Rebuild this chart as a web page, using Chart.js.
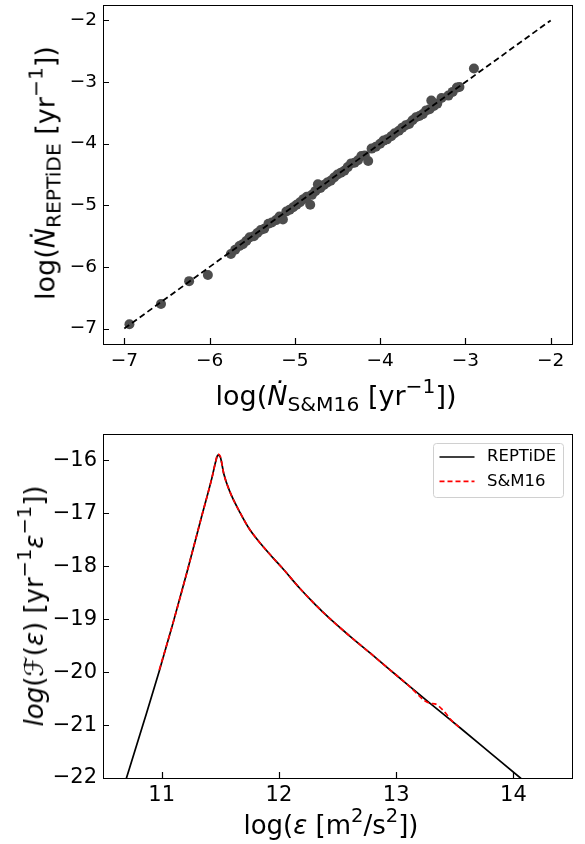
<!DOCTYPE html>
<html>
<head>
<meta charset="utf-8">
<script src="https://cdn.jsdelivr.net/npm/chart.js@4/dist/chart.umd.min.js"></script>
<style>
html, body { margin: 0; padding: 0; background: #fff; }
#page { position: relative; width: 585px; height: 844px; overflow: hidden; font-family: "DejaVu Sans", sans-serif; color: #000; }
.panel { position: absolute; left: 0; width: 585px; }
.title { position: absolute; white-space: nowrap; line-height: 1; }
.sub, .sup { font-size: 0.75em; position: relative; }
.sub { top: 0.3em; }
.sup { top: -0.6em; }
</style>
</head>
<body>
<div id="page">
  <div class="panel" style="top:0;height:415px"><canvas id="rateChart"></canvas></div>
  <div class="panel" style="top:415px;height:429px"><canvas id="distChart"></canvas></div>

  <div class="title" style="font-size:27px;left:44.7px;top:173px;transform:translate(-50%,-50%) rotate(-90deg)">log(<i>Ṅ</i><span class="sub">REPTiDE</span> [yr<span class="sup">−1</span>])</div>
  <div class="title" style="font-size:27px;left:336px;top:382px;transform:translateX(-50%)">log(<i>Ṅ</i><span class="sub">S&amp;M16</span> [yr<span class="sup">−1</span>])</div>

  <div class="title" style="font-size:26px;left:33.7px;top:606px;transform:translate(-50%,-50%) rotate(-90deg)"><i>log</i>(<i>ℱ</i>(<i>ε</i>) [yr<span class="sup">−1</span><i>ε</i><span class="sup">−1</span>])</div>
  <div class="title" style="font-size:26px;left:331px;top:812px;transform:translateX(-50%)">log(<i>ε</i> [m<span class="sup">2</span>/s<span class="sup">2</span>])</div>
</div>

<script>
// --- TICKS ---
const rateTicks = [-7, -6, -5, -4, -3, -2];
const epsTicks = [11, 12, 13, 14];
const fluxTicks = [-22, -21, -20, -19, -18, -17, -16];

// --- TOP PANEL: rates, S&M16 (x) vs REPTiDE (y) ---
const rateSM = [
  -6.94, -6.57, -6.24, -6.02,
  -5.75, -5.70, -5.65, -5.61, -5.57, -5.53, -5.48, -5.44, -5.40, -5.36,
  -5.31, -5.27, -5.22, -5.18, -5.14, -5.10, -5.06, -5.02, -4.98, -4.94,
  -4.90, -4.86, -4.82, -4.80, -4.76, -4.73, -4.70, -4.66, -4.62, -4.58,
  -4.54, -4.50, -4.46, -4.42, -4.38, -4.34, -4.30, -4.26, -4.22, -4.18,
  -4.14, -4.10, -4.05, -4.00, -3.96, -3.92, -3.87, -3.83, -3.78, -3.74,
  -3.70, -3.66, -3.62, -3.58, -3.54, -3.50, -3.46, -3.42, -3.40, -3.37,
  -3.33, -3.28, -3.20, -3.15, -3.10, -3.07,
  -2.90
];
const rateREP = [
  -6.93, -6.60, -6.23, -6.13,
  -5.79, -5.72, -5.66, -5.63, -5.58, -5.52, -5.50, -5.45, -5.40, -5.38,
  -5.30, -5.28, -5.24, -5.18, -5.23, -5.10, -5.07, -5.03, -4.99, -4.95,
  -4.90, -4.86, -4.99, -4.83, -4.77, -4.66, -4.72, -4.67, -4.63, -4.60,
  -4.55, -4.50, -4.47, -4.44, -4.38, -4.32, -4.31, -4.27, -4.20, -4.19,
  -4.28, -4.08, -4.05, -4.00, -3.95, -3.93, -3.88, -3.83, -3.79, -3.74,
  -3.70, -3.68, -3.62, -3.57, -3.55, -3.52, -3.46, -3.44, -3.30, -3.39,
  -3.35, -3.26, -3.22, -3.16, -3.09, -3.08,
  -2.78
];
const oneToOneX = [-7, -2];
const oneToOneY = [-7, -2];

// --- BOTTOM PANEL: energy distribution ---
const logEps = [
  10.60, 10.70, 10.84, 10.98, 11.10, 11.22, 11.34, 11.43, 11.46, 11.48,
  11.50, 11.53, 11.58, 11.67, 11.75, 11.84, 11.95, 12.04, 12.18, 12.30,
  12.44, 12.60, 12.80, 12.95, 13.10, 13.29, 13.55, 13.80, 14.06, 14.15
];
const logFrep = [
  -22.71, -22.00, -21.00, -19.98, -19.05, -18.08, -17.07, -16.32, -16.03, -15.90,
  -15.93, -16.25, -16.58, -16.99, -17.30, -17.56, -17.84, -18.06, -18.42, -18.70,
  -19.00, -19.31, -19.68, -19.96, -20.24, -20.59, -21.06, -21.52, -22.00, -22.17
];
const logEpsSM = [
  10.98, 11.10, 11.22, 11.34, 11.43, 11.46, 11.48, 11.50, 11.53, 11.58,
  11.67, 11.75, 11.84, 11.95, 12.04, 12.18, 12.30, 12.44, 12.60, 12.80,
  12.95, 13.10, 13.29, 13.33, 13.40, 13.48, 13.55
];
const logFsm = [
  -19.96, -19.05, -18.08, -17.07, -16.32, -16.03, -15.88, -15.92, -16.25, -16.58,
  -16.99, -17.30, -17.56, -17.84, -18.06, -18.42, -18.70, -19.00, -19.31, -19.68,
  -19.96, -20.24, -20.59, -20.60, -20.72, -20.93, -21.06
];

function pts(xs, ys) {
  return xs.map((x, i) => ({ x: x, y: ys[i] }));
}

function minus(v) {
  return String(v).replace('-', '\u2212');
}

// --- AXIS ---
function axis(min, max, ticks, size, pad, fitKey, fitVal) {
  return {
    type: 'linear',
    min: min,
    max: max,
    grid: { display: false, drawTicks: false },
    border: { display: false },
    ticks: {
      color: '#000',
      font: { family: 'DejaVu Sans', size: size },
      padding: pad,
      autoSkip: false,
      maxRotation: 0,
      callback: v => minus(v)
    },
    afterBuildTicks: s => { s.ticks = ticks.map(v => ({ value: v })); },
    afterFit: s => {
      s[fitKey] = fitVal;
      s.paddingTop = 0; s.paddingBottom = 0;
      s.paddingLeft = 0; s.paddingRight = 0;
    }
  };
}

// --- FRAME + INWARD TICKS (matplotlib look) ---
const frame = {
  id: 'frame',
  afterDraw(chart) {
    const { ctx, chartArea: a, scales } = chart;
    ctx.save();
    ctx.strokeStyle = '#000';
    ctx.lineWidth = 1;
    ctx.strokeRect(Math.round(a.left) + 0.5, Math.round(a.top) + 0.5,
      Math.round(a.right - a.left), Math.round(a.bottom - a.top));
    ctx.lineWidth = 1.2;
    ctx.beginPath();
    scales.x.ticks.forEach(t => {
      const px = Math.round(scales.x.getPixelForValue(t.value)) + 0.5;
      ctx.moveTo(px, a.bottom);
      ctx.lineTo(px, a.bottom - 6);
    });
    scales.y.ticks.forEach(t => {
      const py = Math.round(scales.y.getPixelForValue(t.value)) + 0.5;
      ctx.moveTo(a.left, py);
      ctx.lineTo(a.left + 6, py);
    });
    ctx.stroke();
    ctx.restore();
  }
};

// --- LEGEND BOX (upper right, inside axes) ---
const boxLegend = {
  id: 'boxLegend',
  afterDraw(chart) {
    const { ctx, chartArea: a } = chart;
    const x0 = a.right - 138.5, y0 = a.top + 9.5, w = 130, h = 54;
    ctx.save();
    ctx.beginPath();
    ctx.roundRect(x0, y0, w, h, 3);
    ctx.fillStyle = 'rgba(255,255,255,0.8)';
    ctx.fill();
    ctx.strokeStyle = '#d0d0d0';
    ctx.lineWidth = 1;
    ctx.stroke();
    ctx.font = '16.5px "DejaVu Sans"';
    ctx.textBaseline = 'middle';
    ctx.fillStyle = '#000';
    chart.data.datasets.forEach((ds, i) => {
      const y = y0 + 13.5 + i * 24.3;
      ctx.beginPath();
      ctx.strokeStyle = ds.borderColor;
      ctx.lineWidth = ds.borderWidth;
      ctx.setLineDash(ds.borderDash || []);
      ctx.moveTo(x0 + 6, y);
      ctx.lineTo(x0 + 41, y);
      ctx.stroke();
      ctx.setLineDash([]);
      ctx.fillText(ds.label, x0 + 53.5, y);
    });
    ctx.restore();
  }
};

// --- TOP CHART ---
new Chart(document.getElementById('rateChart'), {
  type: 'scatter',
  data: {
    datasets: [{
      label: '1:1',
      data: pts(oneToOneX, oneToOneY),
      showLine: true,
      borderColor: '#000',
      borderWidth: 1.8,
      borderDash: [6, 3.5],
      pointRadius: 0,
      order: 0
    }, {
      label: 'rates',
      data: pts(rateSM, rateREP),
      backgroundColor: '#4d4d4d',
      borderWidth: 0,
      pointRadius: 5,
      order: 1
    }]
  },
  options: {
    animation: false,
    responsive: true,
    maintainAspectRatio: false,
    devicePixelRatio: 1,
    layout: { padding: { left: 0, right: 13, top: 2, bottom: 0 } },
    plugins: { legend: { display: false }, tooltip: { enabled: false } },
    scales: {
      x: axis(-7.25, -1.75, rateTicks, 18.5, 6, 'height', 71),
      y: axis(-7.25, -1.75, rateTicks, 18.5, 6, 'width', 103)
    }
  },
  plugins: [frame]
});

// --- BOTTOM CHART ---
new Chart(document.getElementById('distChart'), {
  type: 'scatter',
  data: {
    datasets: [{
      label: 'REPTiDE',
      data: pts(logEps, logFrep),
      showLine: true,
      borderColor: '#000',
      borderWidth: 1.7,
      pointRadius: 0,
      cubicInterpolationMode: 'monotone',
      order: 1
    }, {
      label: 'S&M16',
      data: pts(logEpsSM, logFsm),
      showLine: true,
      borderColor: '#ff0000',
      borderWidth: 1.7,
      borderDash: [5, 3],
      pointRadius: 0,
      cubicInterpolationMode: 'monotone',
      order: 0
    }]
  },
  options: {
    animation: false,
    responsive: true,
    maintainAspectRatio: false,
    devicePixelRatio: 1,
    layout: { padding: { left: 0, right: 13, top: 19, bottom: 0 } },
    plugins: { legend: { display: false }, tooltip: { enabled: false } },
    scales: {
      x: axis(10.5, 14.5, epsTicks, 21, 5, 'height', 66),
      y: axis(-22, -15.5, fluxTicks, 21, 6, 'width', 103)
    }
  },
  plugins: [frame, boxLegend]
});
</script>
</body>
</html>
